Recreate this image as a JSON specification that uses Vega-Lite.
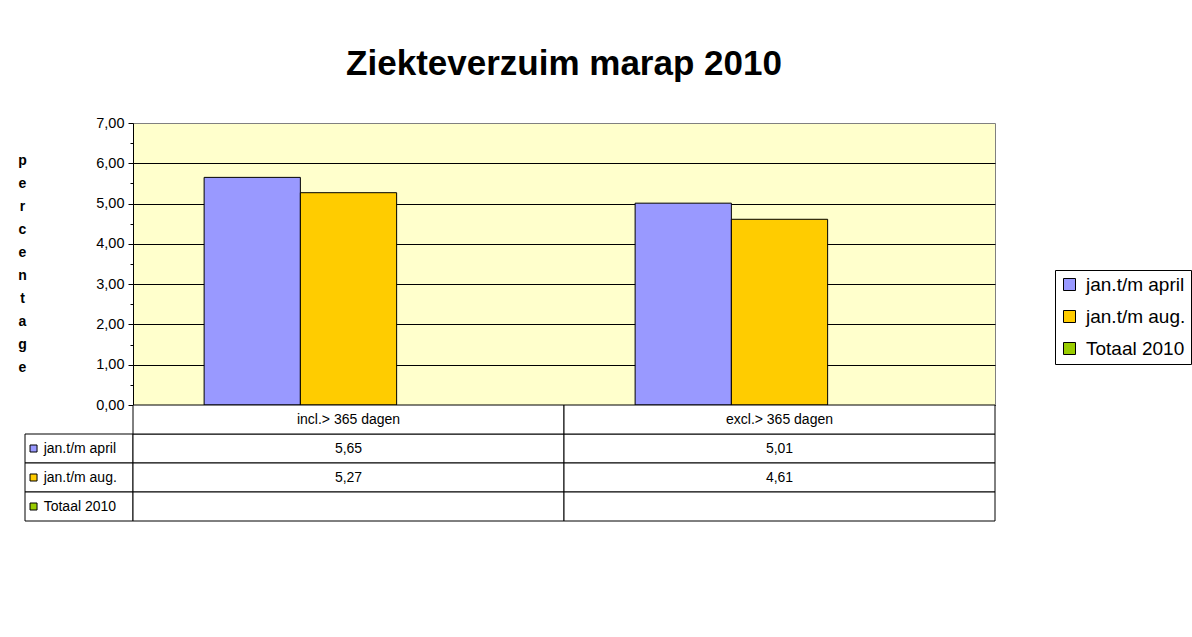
{
  "$schema": "https://vega.github.io/schema/vega-lite/v6.json",
  "padding": {"left": 17, "top": 46, "right": 0, "bottom": 10},
  "background": "white",
  "bounds": "flush",
  "spacing": 0,
  "columns": 2,
  "config": {
    "font": "Liberation Sans",
    "locale": {"number": {"decimal": ",", "thousands": ".", "grouping": [3], "currency": ["€ ", ""]}},
    "view": {"stroke": null}
  },
  "datasets": {
    "ziekte": [
      {"cat": "incl.> 365 dagen", "series": "jan.t/m april", "value": 5.65},
      {"cat": "incl.> 365 dagen", "series": "jan.t/m aug.", "value": 5.27},
      {"cat": "incl.> 365 dagen", "series": "Totaal 2010", "value": null},
      {"cat": "excl.> 365 dagen", "series": "jan.t/m april", "value": 5.01},
      {"cat": "excl.> 365 dagen", "series": "jan.t/m aug.", "value": 4.61},
      {"cat": "excl.> 365 dagen", "series": "Totaal 2010", "value": null}
    ]
  },
  "resolve": {"legend": {"color": "independent", "fill": "independent"}},
  "concat": [
    {
      "width": 108,
      "height": 282,
      "data": {"values": [{}]},
      "mark": {"type": "text"},
      "encoding": {"text": {"value": ""}}
    },
    {
      "width": 862,
      "height": 282,
      "title": {"text": "Ziekteverzuim marap 2010", "fontSize": 35, "fontWeight": "bold", "anchor": "middle", "frame": "group", "baseline": "alphabetic", "offset": 5, "color": "black"},
      "view": {"fill": "#FFFFCC", "stroke": "#808080", "strokeWidth": 1},
      "data": {"name": "ziekte"},
      "transform": [{"filter": "isValid(datum.value)"}],
      "mark": {"type": "bar", "stroke": "black", "strokeWidth": 1},
      "encoding": {
        "x": {"field": "cat", "type": "nominal", "sort": ["incl.> 365 dagen", "excl.> 365 dagen"], "scale": {"paddingInner": 0.33, "paddingOuter": 0.165}, "axis": null},
        "xOffset": {"field": "series", "type": "nominal", "scale": {"domain": ["jan.t/m april", "jan.t/m aug.", "Totaal 2010"], "paddingInner": 0, "paddingOuter": 0}},
        "y": {
          "field": "value", "type": "quantitative",
          "scale": {"domain": [0, 7], "nice": false},
          "axis": {
            "values": [0, 0.5, 1, 1.5, 2, 2.5, 3, 3.5, 4, 4.5, 5, 5.5, 6, 6.5, 7],
            "format": ".2f",
            "labelExpr": "datum.value % 1 === 0 ? datum.label : ''",
            "labelFontSize": 14.5,
            "labelColor": "black",
            "labelPadding": 4,
            "tickSize": {"condition": {"test": "datum.value % 1 !== 0", "value": 3}, "value": 5},
            "tickColor": "black",
            "domainColor": "black",
            "grid": true,
            "gridColor": "black",
            "gridOpacity": {"condition": {"test": "datum.value % 1 !== 0 || datum.value === 7", "value": 0}, "value": 1},
            "title": ["p", "e", "r", "c", "e", "n", "t", "a", "g", "e"],
            "titleAngle": 0,
            "titleFontSize": 14,
            "titleFontWeight": "bold",
            "titleLineHeight": 23,
            "titleX": -111,
            "titleY": 37,
            "titleAlign": "center",
            "titleBaseline": "middle",
            "titleColor": "black"
          }
        },
        "color": {
          "field": "series", "type": "nominal",
          "scale": {"domain": ["jan.t/m april", "jan.t/m aug.", "Totaal 2010"], "range": ["#9999FF", "#FFCC00", "#99CC00"]},
          "legend": {
            "orient": "none", "legendX": 922, "legendY": 147,
            "title": null,
            "symbolType": "square", "symbolSize": 144,
            "symbolStrokeColor": "black", "symbolStrokeWidth": 1,
            "labelFontSize": 19, "labelColor": "black", "labelOffset": 7, "labelLimit": 300,
            "rowPadding": 12, "padding": 5,
            "strokeColor": "black", "fillColor": "white"
          }
        }
      }
    },
    {
      "width": 108,
      "height": 116,
      "data": {"name": "ziekte"},
      "transform": [{"filter": "datum.cat === 'incl.> 365 dagen'"}],
      "encoding": {
        "y": {"field": "series", "type": "nominal", "scale": {"domain": ["hdr", "jan.t/m april", "jan.t/m aug.", "Totaal 2010"], "paddingInner": 0, "paddingOuter": 0}, "axis": null}
      },
      "layer": [
        {
          "mark": {"type": "rect", "fill": "white", "stroke": "black", "strokeWidth": 1},
          "encoding": {
            "x": {"datum": 0, "type": "quantitative", "scale": {"domain": [0, 1], "nice": false, "zero": false}, "axis": null},
            "x2": {"datum": 1}
          }
        },
        {
          "mark": {"type": "point", "shape": "square", "filled": true, "size": 49, "stroke": "black", "strokeWidth": 1, "opacity": 1},
          "encoding": {
            "x": {"datum": 0.079, "type": "quantitative"},
            "fill": {"field": "series", "type": "nominal", "scale": {"domain": ["jan.t/m april", "jan.t/m aug.", "Totaal 2010"], "range": ["#9999FF", "#FFCC00", "#99CC00"]}, "legend": null}
          }
        },
        {
          "mark": {"type": "text", "align": "left", "baseline": "middle", "fontSize": 14, "color": "black"},
          "encoding": {
            "x": {"datum": 0.173, "type": "quantitative"},
            "text": {"field": "series"}
          }
        }
      ]
    },
    {
      "width": 862,
      "height": 116,
      "data": {"name": "ziekte"},
      "encoding": {
        "x": {"field": "cat", "type": "nominal", "sort": ["incl.> 365 dagen", "excl.> 365 dagen"], "scale": {"paddingInner": 0, "paddingOuter": 0}, "axis": null}
      },
      "layer": [
        {
          "mark": {"type": "rect", "fill": "white", "stroke": "black", "strokeWidth": 1},
          "encoding": {
            "y": {"field": "series", "type": "nominal", "scale": {"domain": ["hdr", "jan.t/m april", "jan.t/m aug.", "Totaal 2010"], "paddingInner": 0, "paddingOuter": 0}, "axis": null}
          }
        },
        {
          "transform": [{"filter": "datum.series === 'jan.t/m april'"}],
          "mark": {"type": "rect", "fill": "white", "stroke": "black", "strokeWidth": 1},
          "encoding": {"y": {"datum": "hdr", "type": "nominal"}}
        },
        {
          "transform": [{"filter": "datum.series === 'jan.t/m april'"}],
          "mark": {"type": "text", "fontSize": 14, "color": "black", "baseline": "middle"},
          "encoding": {"y": {"datum": "hdr", "type": "nominal"}, "text": {"field": "cat"}}
        },
        {
          "transform": [{"filter": "isValid(datum.value)"}],
          "mark": {"type": "text", "fontSize": 14, "color": "black", "baseline": "middle"},
          "encoding": {
            "y": {"field": "series", "type": "nominal"},
            "text": {"field": "value", "type": "quantitative", "format": ".2f"}
          }
        }
      ]
    }
  ]
}
